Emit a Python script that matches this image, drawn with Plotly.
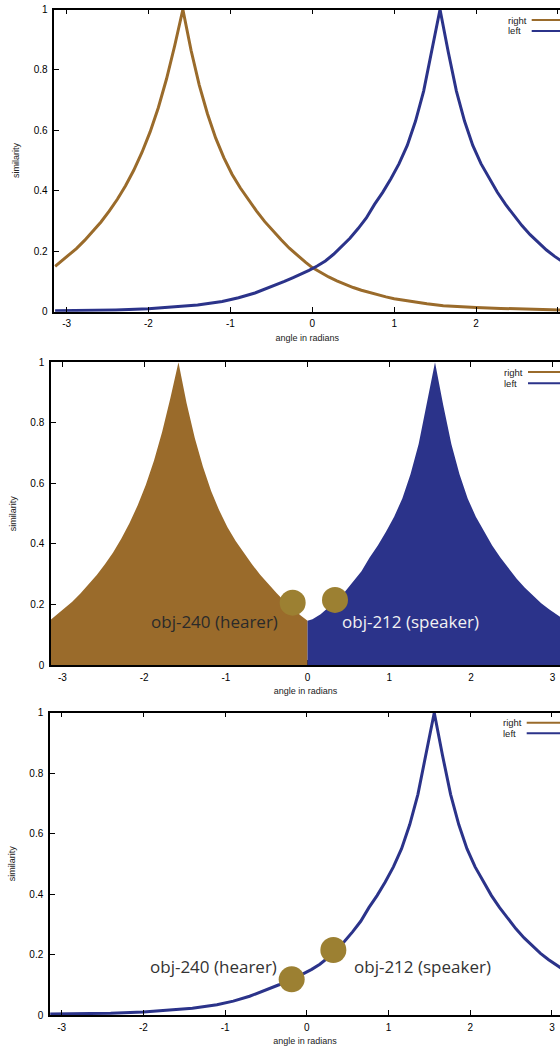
import plotly.graph_objects as go

# ---------------- data ----------------
angle_right = [-3.14, -3.08, -2.98, -2.88, -2.78, -2.68, -2.58, -2.48, -2.38, -2.28, -2.18,
               -2.08, -1.98, -1.88, -1.78, -1.68, -1.58, -1.48, -1.38, -1.28, -1.18, -1.08,
               -0.98, -0.88, -0.78, -0.68, -0.58, -0.48, -0.38, -0.28, -0.18, -0.08, 0.0,
               0.1, 0.2, 0.3, 0.4, 0.5, 0.6, 0.7, 0.8, 0.9, 1.0, 1.2, 1.4, 1.6, 1.8, 2.0,
               2.3, 2.6, 2.9, 3.14]
sim_right = [0.150, 0.163, 0.185, 0.209, 0.236, 0.265, 0.297, 0.333, 0.372, 0.417, 0.468,
             0.527, 0.595, 0.675, 0.770, 0.880, 1.000, 0.865, 0.750, 0.655, 0.575, 0.510,
             0.455, 0.410, 0.370, 0.333, 0.298, 0.267, 0.238, 0.210, 0.185, 0.163, 0.146,
             0.130, 0.115, 0.102, 0.090, 0.080, 0.071, 0.063, 0.056, 0.049, 0.043, 0.034,
             0.026, 0.020, 0.016, 0.014, 0.011, 0.008, 0.006, 0.005]

angle_left = [-3.14, -2.8, -2.4, -2.0, -1.7, -1.4, -1.1, -0.9, -0.7, -0.5, -0.34, -0.24, -0.14,
              -0.04, 0.06, 0.16, 0.26, 0.36, 0.46, 0.56, 0.66, 0.76, 0.86, 0.96, 1.06, 1.16,
              1.26, 1.36, 1.46, 1.56, 1.66, 1.76, 1.86, 1.96, 2.06, 2.16, 2.26, 2.36, 2.46,
              2.56, 2.66, 2.76, 2.86, 2.96, 3.06, 3.14]
sim_left = [0.003, 0.004, 0.006, 0.010, 0.015, 0.022, 0.034, 0.046, 0.062, 0.082, 0.100, 0.112, 0.124,
            0.137, 0.151, 0.168, 0.190, 0.215, 0.243, 0.275, 0.310, 0.355, 0.395, 0.440, 0.490, 0.550,
            0.630, 0.730, 0.860, 1.000, 0.860, 0.730, 0.630, 0.550, 0.490, 0.440, 0.395, 0.355, 0.318,
            0.285, 0.255, 0.228, 0.204, 0.183, 0.164, 0.150]

series_names = ["right", "left"]
x_ticks = [-3, -2, -1, 0, 1, 2, 3]
x_tick_labels = ["-3", "-2", "-1", "0", "1", "2", "3"]
y_ticks = [0, 0.2, 0.4, 0.6, 0.8, 1]
y_tick_labels = ["0", "0.2", "0.4", "0.6", "0.8", "1"]

object_labels = ["obj-240 (hearer)", "obj-212 (speaker)"]
dots_p2_angle = [-0.182, 0.336]
dots_p2_sim = [0.206, 0.215]
dots_p3_angle = [-0.185, 0.325]
dots_p3_sim = [0.118, 0.215]

# ---------------- style ----------------
BROWN = "#9a6b2b"
BLUE = "#2b338a"
GOLD = "#9c8032"
W, H = 560, 1050
AXFONT = "Liberation Sans, Arial, sans-serif"
LBLFONT = "Open Sans, sans-serif"


def pxx(v):
    return v / W


def pyy(v):
    return 1 - v / H


panels = [
    dict(left=54.3, top=9.5, bottom=311.7, xr=[-3.15, 3.025]),
    dict(left=51.0, top=362.3, bottom=665.0, xr=[-3.14, 3.09]),
    dict(left=50.0, top=712.7, bottom=1015.0, xr=[-3.143, 3.099]),
]

fig = go.Figure()

# panel 1: two lines
fig.add_trace(go.Scatter(x=angle_right, y=sim_right, mode="lines", name=series_names[0],
                         line=dict(color=BROWN, width=3), xaxis="x", yaxis="y"))
fig.add_trace(go.Scatter(x=angle_left, y=sim_left, mode="lines", name=series_names[1],
                         line=dict(color=BLUE, width=3), xaxis="x", yaxis="y"))

# panel 2: filled regions
rx = [a for a in angle_right if a <= 0]
ry = [s for a, s in zip(angle_right, sim_right) if a <= 0]
lx = [0.0] + [a for a in angle_left if a >= 0]
ly = [sim_right[angle_right.index(0.0)]] + [s for a, s in zip(angle_left, sim_left) if a >= 0]
fig.add_trace(go.Scatter(x=rx, y=ry, mode="lines", fill="tozeroy", fillcolor=BROWN,
                         line=dict(width=0, color=BROWN), xaxis="x2", yaxis="y2"))
fig.add_trace(go.Scatter(x=lx, y=ly, mode="lines", fill="tozeroy", fillcolor=BLUE,
                         line=dict(width=0, color=BLUE), xaxis="x2", yaxis="y2"))
fig.add_trace(go.Scatter(x=dots_p2_angle, y=dots_p2_sim, mode="markers",
                         marker=dict(size=26, color=GOLD, line=dict(width=0)),
                         xaxis="x2", yaxis="y2"))

# panel 3: left curve only + dots
fig.add_trace(go.Scatter(x=angle_left, y=sim_left, mode="lines",
                         line=dict(color=BLUE, width=3), xaxis="x3", yaxis="y3"))
fig.add_trace(go.Scatter(x=dots_p3_angle, y=dots_p3_sim, mode="markers",
                         marker=dict(size=26, color=GOLD, line=dict(width=0)),
                         xaxis="x3", yaxis="y3"))

# dummy traces for top (mirror) axes
for k in (4, 5, 6):
    fig.add_trace(go.Scatter(x=[None], y=[None], mode="lines", xaxis=f"x{k}",
                             yaxis=["y", "y2", "y3"][k - 4], hoverinfo="skip"))

layout = dict(width=W, height=H, margin=dict(l=0, r=0, t=0, b=0),
              paper_bgcolor="white", plot_bgcolor="white", showlegend=False,
              font=dict(family=AXFONT, color="#111"))

for i, p in enumerate(panels, start=1):
    sfx = "" if i == 1 else str(i)
    dom_x = [pxx(p["left"]), 1.0]
    dom_y = [pyy(p["bottom"]), pyy(p["top"])]
    layer = "below traces" if i == 2 else "above traces"
    layout[f"xaxis{sfx}"] = dict(
        domain=dom_x, anchor=f"y{sfx}", range=p["xr"], tickvals=x_ticks,
        ticktext=x_tick_labels, ticks="inside", ticklen=5, tickwidth=1, tickcolor="black",
        showline=True, linecolor="black", linewidth=1.5, showgrid=False, zeroline=False,
        tickfont=dict(size=10, family=AXFONT, color="black"), ticklabelstandoff=2,
        title=dict(text="angle in radians", font=dict(size=9, family=AXFONT, color="#222"),
                   standoff=6),
        automargin=False, layer=layer)
    layout[f"yaxis{sfx}"] = dict(
        domain=dom_y, anchor=f"x{sfx}", range=[0, 1], tickvals=y_ticks,
        ticktext=y_tick_labels, ticks="inside", ticklen=5, tickwidth=1, tickcolor="black",
        showline=True, linecolor="black", linewidth=1.5, showgrid=False, zeroline=False,
        tickfont=dict(size=10, family=AXFONT, color="black"), ticklabelstandoff=3,
        title=dict(text="similarity", font=dict(size=9, family=AXFONT, color="#222"),
                   standoff=12),
        automargin=False, layer=layer)
    layout[f"xaxis{i + 3}"] = dict(
        overlaying=f"x{sfx}", anchor=f"y{sfx}", side="top", range=p["xr"], tickvals=x_ticks,
        ticks="inside", ticklen=5, tickwidth=1, tickcolor="black", showticklabels=False,
        showline=True, linecolor="black", linewidth=1.5, showgrid=False, zeroline=False,
        automargin=False)

fig.update_layout(**layout)

# legends (text + line sample, cut at the right page edge)
legend_pos = [
    (505.5, 20.0, 31.0, 531.7),
    (502.0, 372.0, 383.3, 528.0),
    (500.5, 722.7, 733.3, 526.7),
]
for (tx, y1, y2, lx0) in legend_pos:
    for name, yy, col in ((series_names[0], y1, BROWN), (series_names[1], y2, BLUE)):
        fig.add_annotation(x=pxx(tx), y=pyy(yy), xref="paper", yref="paper", text=name,
                           showarrow=False, xanchor="left", yanchor="middle",
                           font=dict(size=9.5, family=AXFONT, color="#222"))
        fig.add_shape(type="line", xref="paper", yref="paper", x0=pxx(lx0), x1=1.02,
                      y0=pyy(yy), y1=pyy(yy), line=dict(color=col, width=2))

# object labels
fig.add_annotation(x=-1.133, y=0.145, xref="x2", yref="y2", text=object_labels[0],
                   showarrow=False, font=dict(size=17, family=LBLFONT, color="#2a2a2a"))
fig.add_annotation(x=1.264, y=0.145, xref="x2", yref="y2", text=object_labels[1],
                   showarrow=False, font=dict(size=17, family=LBLFONT, color="#f2f2f2"))
fig.add_annotation(x=-1.142, y=0.159, xref="x3", yref="y3", text=object_labels[0],
                   showarrow=False, font=dict(size=17, family=LBLFONT, color="#333333"))
fig.add_annotation(x=1.416, y=0.159, xref="x3", yref="y3", text=object_labels[1],
                   showarrow=False, font=dict(size=17, family=LBLFONT, color="#333333"))

fig.write_html("out.html", config={"displayModeBar": False},
               post_script="document.body.style.margin='0';document.body.style.overflow='hidden';")
